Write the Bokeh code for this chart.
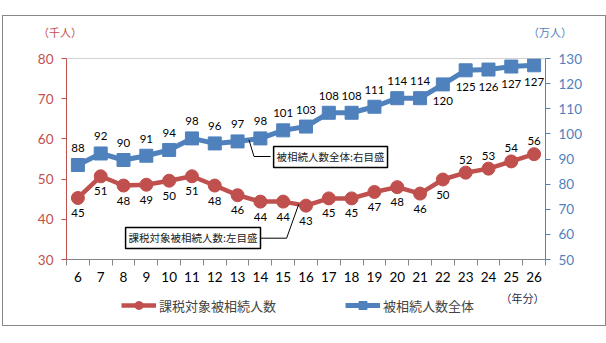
import numpy as np
from bokeh.plotting import figure
from bokeh.layouts import column
from bokeh.models import (Range1d, LinearAxis, FixedTicker, Label, Legend, Div,
                          LegendItem, Span, ColumnDataSource)
from bokeh.core.properties import value
from bokeh.embed import file_html
from bokeh.resources import INLINE

# ---- data ----
years = [6, 7, 8, 9, 10, 11, 12, 13, 14, 15, 16, 17, 18, 19, 20, 21, 22, 23, 24, 25, 26]
taxable = [45.3, 50.7, 48.4, 48.6, 49.6, 50.7, 48.4, 46.0, 44.4, 44.4, 43.4, 45.2, 45.2,
           46.8, 48.0, 46.4, 49.9, 51.6, 52.6, 54.4, 56.2]          # 千人 (left axis)
deaths = [87.6, 92.2, 89.6, 91.3, 93.6, 98.2, 96.2, 97.0, 98.2, 101.4, 102.9, 108.4, 108.4,
          110.8, 114.2, 114.2, 119.7, 125.3, 125.6, 126.8, 127.3]   # 万人 (right axis)
left_ticks = [30, 40, 50, 60, 70, 80]
right_ticks = [50, 60, 70, 80, 90, 100, 110, 120, 130]
name_taxable = "課税対象被相続人数"
name_deaths = "被相続人数全体"
unit_left = "（千人）"
unit_right = "（万人）"
unit_x = "（年分）"

RED = "#C0504D"
BLUE = "#4F81BD"
GRAY = "#868686"
NUM_FONT = "Lato"
JP_FONT = "Noto Sans CJK JP"
W = 602

# ---- top row: axis units (HTML, so they may sit over the axis columns) ----
span_css = ("position:absolute;top:8px;line-height:16px;font-family:'Noto Sans CJK JP';"
            "font-size:11px;white-space:nowrap;")
top = Div(text=(f'<div style="position:relative;width:{W}px;height:32px;">'
                f'<span style="{span_css}left:35px;color:{RED};">{unit_left}</span>'
                f'<span style="{span_css}left:525px;color:{BLUE};">{unit_right}</span></div>'),
          width=W, height=32, margin=0)

# ---- main chart ----
p = figure(width=W, height=241, output_backend="svg", toolbar_location=None,
           x_range=Range1d(years[0] - 0.5, years[-1] + 0.5),
           y_range=Range1d(left_ticks[0], left_ticks[-1]),
           min_border_left=63, min_border_right=60, min_border_top=10, min_border_bottom=30)
p.margin = 0
p.outline_line_color = None
p.xgrid.visible = False
p.ygrid.visible = False
p.extra_y_ranges = {"right": Range1d(right_ticks[0], right_ticks[-1])}

xa = p.xaxis[0]
xa.ticker = FixedTicker(ticks=years, minor_ticks=list(np.arange(years[0] - 0.5, years[-1] + 1.0, 1.0)))
xa.axis_line_color = GRAY
xa.major_tick_line_color = None
xa.major_tick_out = 6
xa.major_tick_in = 0
xa.minor_tick_line_color = GRAY
xa.minor_tick_out = 6
xa.minor_tick_in = 0
xa.major_label_text_font = NUM_FONT
xa.major_label_text_font_size = "13.5px"
xa.major_label_text_color = "black"
xa.major_label_standoff = 6

ya = p.yaxis[0]
ya.ticker = FixedTicker(ticks=left_ticks)
ya.axis_line_color = RED
ya.major_tick_line_color = RED
ya.major_tick_out = 5
ya.major_tick_in = 0
ya.minor_tick_line_color = None
ya.major_label_text_color = RED
ya.major_label_text_font = NUM_FONT
ya.major_label_text_font_size = "13.5px"
ya.major_label_standoff = 8

yr = LinearAxis(y_range_name="right", ticker=FixedTicker(ticks=right_ticks))
yr.axis_line_color = BLUE
yr.major_tick_line_color = BLUE
yr.major_tick_out = 5
yr.major_tick_in = 0
yr.minor_tick_line_color = None
yr.major_label_text_color = BLUE
yr.major_label_text_font = NUM_FONT
yr.major_label_text_font_size = "13.5px"
yr.major_label_standoff = 8
p.add_layout(yr, "right")

p.add_layout(Span(location=left_ticks[-1], dimension="width", line_color="#a6a6a6", line_width=1))

src = ColumnDataSource(dict(x=years, t=taxable, d=deaths,
                            tl=["%d" % round(v) for v in taxable],
                            dl=["%d" % round(v) for v in deaths]))
p.line("x", "d", source=src, y_range_name="right", line_color=BLUE, line_width=5)
p.scatter("x", "d", source=src, y_range_name="right", marker="square", size=13,
          fill_color=BLUE, line_color=BLUE)
p.line("x", "t", source=src, line_color=RED, line_width=4.5)
p.scatter("x", "t", source=src, marker="circle", size=13, fill_color=RED, line_color=RED)

n = len(years)
blue_below = [i for i in range(n) if years[i] >= 22]
blue_above = [i for i in range(n) if years[i] < 22]
red_above = [i for i in range(n) if years[i] >= 23]
red_below = [i for i in range(n) if years[i] < 23]


def sub(idx, ycol, lcol):
    return ColumnDataSource(dict(x=[years[i] for i in idx],
                                 y=[src.data[ycol][i] for i in idx],
                                 l=[src.data[lcol][i] for i in idx]))


lab_kw = dict(text="l", text_align="center", text_baseline="middle",
              text_font=value(NUM_FONT), text_font_size="11.5px", text_color="black")
p.text("x", "y", source=sub(blue_above, "d", "dl"), y_range_name="right", y_offset=-17, **lab_kw)
p.text("x", "y", source=sub(blue_below, "d", "dl"), y_range_name="right", y_offset=17, **lab_kw)
p.text("x", "y", source=sub(red_below, "t", "tl"), y_offset=15, **lab_kw)
p.text("x", "y", source=sub(red_above, "t", "tl"), y_offset=-13, **lab_kw)

# callout boxes
p.add_layout(Label(x=14.58, y=55.5, text="被相続人数全体:右目盛", text_align="left",
                   text_baseline="middle", text_font=JP_FONT, text_font_size="10.5px",
                   text_color="#222222", border_line_color="black", border_line_width=1.5,
                   background_fill_color="white", padding=3))
p.add_layout(Label(x=8.09, y=35.35, text="課税対象被相続人数:左目盛", text_align="left",
                   text_baseline="middle", text_font=JP_FONT, text_font_size="10.5px",
                   text_color="#222222", border_line_color="black", border_line_width=1.5,
                   background_fill_color="white", padding=3))

# leader lines (anchored on the series)
i13 = years.index(13)
by0 = (deaths[i13] + deaths[i13 + 1]) / 2
p.line([13.5, 13.72, 14.45], [by0, 91.0, 91.0], y_range_name="right", line_color="black", line_width=1)
i15 = years.index(15)
ry0 = taxable[i15] + (taxable[i15 + 1] - taxable[i15]) * 0.68
p.line([13.83, 15.15, 15.68], [35.3, 35.3, ry0], line_color="black", line_width=1)

# ---- bottom strip: legend and x unit (its frame lines up with the chart's frame) ----
BH = 36
bot = figure(width=W, height=BH, output_backend="svg", toolbar_location=None,
             x_range=Range1d(65, 544), y_range=Range1d(0, BH),
             x_axis_location=None, y_axis_location=None,
             min_border_left=63, min_border_right=60, min_border_top=0, min_border_bottom=0)
bot.margin = 0
bot.outline_line_color = None
bot.xgrid.visible = False
bot.ygrid.visible = False
bot.extra_y_ranges = {"legend_only": Range1d(1000, 1001)}   # keeps the legend's renderers out of view
lr = bot.line("x", "t", source=src, y_range_name="legend_only", line_color=RED, line_width=4.5)
lrs = bot.scatter("x", "t", source=src, y_range_name="legend_only", marker="circle", size=11,
                  fill_color=RED, line_color=RED)
lb = bot.line("x", "d", source=src, y_range_name="legend_only", line_color=BLUE, line_width=5)
lbs = bot.scatter("x", "d", source=src, y_range_name="legend_only", marker="square", size=11,
                  fill_color=BLUE, line_color=BLUE)
legend = Legend(items=[LegendItem(label=name_taxable, renderers=[lr, lrs]),
                       LegendItem(label=name_deaths, renderers=[lb, lbs])],
                orientation="horizontal", location=(55, 10), glyph_width=35, glyph_height=20,
                label_text_font=JP_FONT, label_text_font_size="13px", label_standoff=3,
                spacing=69, padding=0, margin=0, border_line_color=None,
                background_fill_alpha=0)
bot.add_layout(legend)
bot.add_layout(Label(x=543, y=28, text=unit_x, text_align="right", text_baseline="middle",
                     text_font=JP_FONT, text_font_size="11px", text_color="#1f2d4d"))

layout = column(top, p, bot, spacing=0)
layout.margin = (15, 2, 17, 2)
layout.styles = {"border": "1px solid #888888"}

open("out.html", "w").write(file_html(layout, INLINE))
